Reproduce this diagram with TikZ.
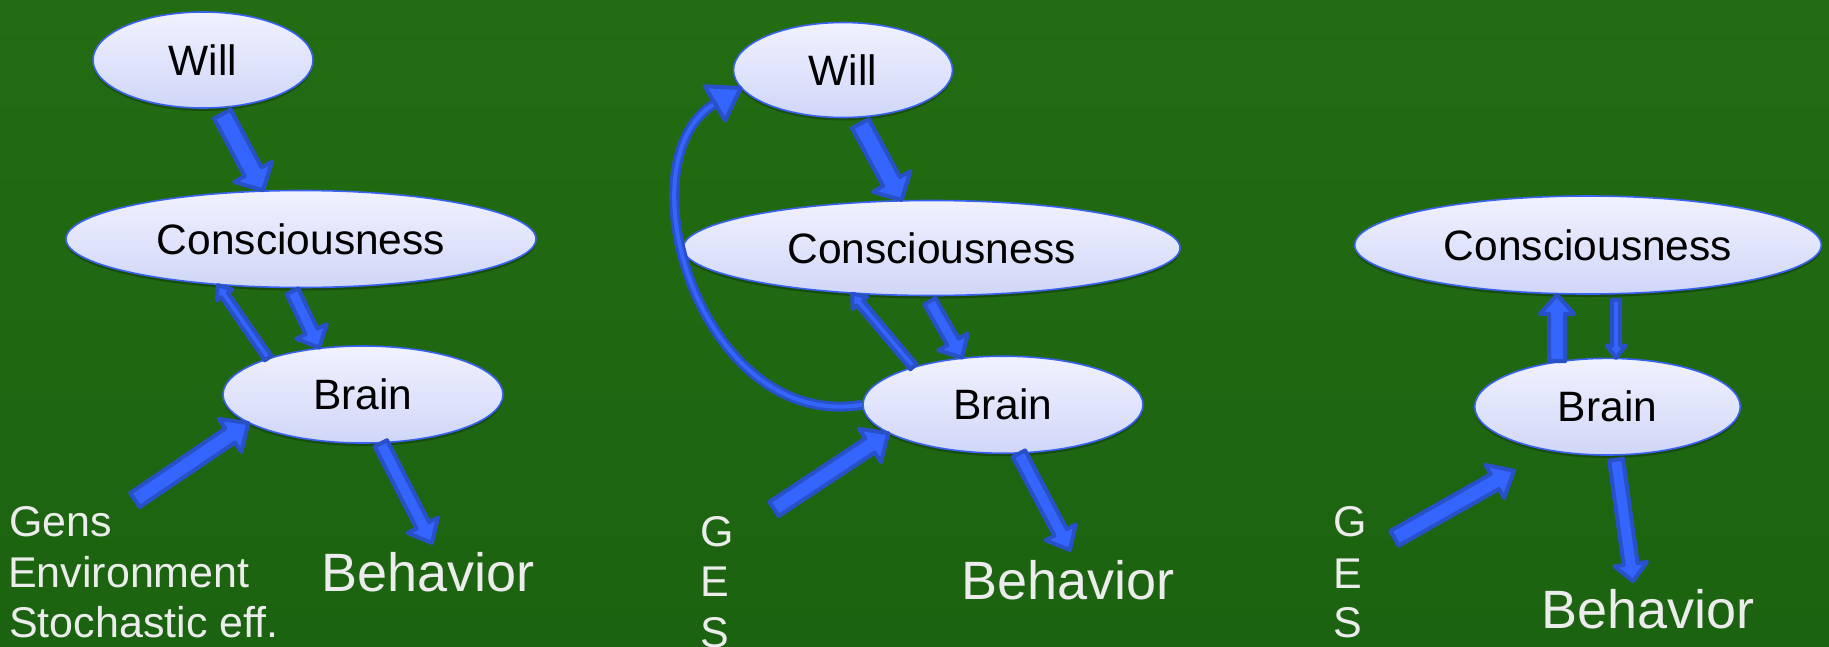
\documentclass[tikz,border=0pt]{standalone}
\usepackage{fontspec}
\setmainfont{Liberation Sans}
\usetikzlibrary{shapes.geometric,calc,shadows}
\definecolor{bgtop}{RGB}{36,108,18}
\definecolor{bgbot}{RGB}{27,99,16}
\definecolor{elltop}{RGB}{241,242,254}
\definecolor{ellbot}{RGB}{208,214,248}
\definecolor{ellborder}{RGB}{58,98,240}
\definecolor{arrfill}{RGB}{52,102,255}
\definecolor{arrborder}{RGB}{40,80,200}
\definecolor{lblcol}{RGB}{236,236,236}
\tikzset{
  bubble/.style={ellipse, draw=ellborder, line width=1.6pt, top color=elltop, bottom color=ellbot,
    inner sep=0pt, text=black, font=\fontsize{42.5}{50}\selectfont,
    drop shadow={shadow xshift=0pt, shadow yshift=-3pt, opacity=0.25, fill=black}},
  barrow/.style={draw=arrborder, fill=arrfill, line width=4pt, line join=round},
  cvborder/.style={draw=arrborder, line width=10pt},
  cvfill/.style={draw=arrfill, line width=4pt},
  lbl/.style={text=lblcol, font=\fontsize{43}{50}\selectfont, inner sep=0pt, anchor=base west},
  behlbl/.style={text=lblcol, font=\fontsize{54}{60}\selectfont, inner sep=0pt, anchor=base west},
}
% block arrow: [opts]{from}{to}{shaft half width}{head half width}{head length}
\newcommand\blockarr[6][]{%
  \coordinate (baA) at (#2);
  \coordinate (baB) at (#3);
  \coordinate (baH) at ($(baB)!#6pt!(baA)$);
  \draw[barrow,#1] ($(baA)!#4pt!90:(baB)$) -- ($(baH)!#4pt!90:(baB)$) -- ($(baH)!#5pt!90:(baB)$)
    -- (baB) -- ($(baH)!#5pt!-90:(baB)$) -- ($(baH)!#4pt!-90:(baB)$) -- ($(baA)!#4pt!-90:(baB)$) -- cycle;
}
\begin{document}
\begin{tikzpicture}[x=1pt,y=-1pt]
\useasboundingbox (0,0) rectangle (1829,646);
\shade[top color=bgtop, bottom color=bgbot] (0,0) rectangle (1829,646);

% ---------- panel 1 ----------
\node[bubble, minimum width=220pt, minimum height=96pt] (w1) at (203,60) {Will};
\node[bubble, minimum width=470pt, minimum height=97pt] (c1) at (301,239) {Consciousness};
\node[bubble, minimum width=280pt, minimum height=97pt] (b1) at (363,394.5) {Brain};
\node[lbl] (g1) at (9,536) {Gens};
\node[lbl] (e1) at (8,587) {Environment};
\node[lbl] (s1) at (9,637) {Stochastic eff.};
\node[behlbl] (beh1) at (321,591) {Behavior};
\coordinate (ges1) at (135,500);
\coordinate (beh1t) at (432,543);
\blockarr{$(w1.-68)+(0,6)$}{c1.128}{9.5}{21.5}{21}
\blockarr{b1.159}{c1.209}{4}{9.5}{12}
\blockarr{$(c1.-100)+(0,3)$}{b1.133}{6.5}{17}{18}
\blockarr{ges1}{b1.194}{8.5}{20}{22}
\blockarr{b1.-70}{beh1t}{7}{17}{20}

% ---------- panel 2 ----------
\node[bubble, minimum width=219pt, minimum height=95pt] (w2) at (843,70) {Will};
\node[bubble, minimum width=497pt, minimum height=95pt] (c2) at (931.5,248) {Consciousness};
\node[bubble, minimum width=280pt, minimum height=97pt] (b2) at (1003,404.7) {Brain};
\node[lbl] (g2) at (700.5,546) {G};
\node[lbl] (e2) at (700.5,596.5) {E};
\node[lbl] (s2) at (700.5,647) {S};
\node[behlbl] (beh2) at (961,599.5) {Behavior};
\coordinate (ges2) at (774,509);
\coordinate (beh2t) at (1070,550);
\blockarr{$(w2.-70)+(0,6)$}{c2.122}{9.5}{21.5}{21}
\blockarr{b2.157}{c2.210}{4}{9.5}{12}
\blockarr{$(c2.-92)+(0,5)$}{b2.131}{6.5}{17}{18}
\blockarr{ges2}{b2.194}{8.5}{20}{22}
\blockarr{b2.-72}{beh2t}{7}{17}{20}
% curved feedback arrow Brain -> Will
\coordinate (cvh) at ($(w2.190)!30pt!(620,160)$);
\draw[cvborder] (b2.west) .. controls (700,432) and (620,160) .. (cvh);
\draw[cvfill] (b2.west) .. controls (700,432) and (620,160) .. (cvh);
\draw[barrow] ($(cvh)!20pt!90:(w2.190)$) -- (w2.190) -- ($(cvh)!20pt!-90:(w2.190)$) -- cycle;

% ---------- panel 3 ----------
\node[bubble, minimum width=466.6pt, minimum height=98pt] (c3) at (1588,245) {Consciousness};
\node[bubble, minimum width=265.6pt, minimum height=96.6pt] (b3) at (1607.5,406.7) {Brain};
\node[lbl] (g3) at (1333.5,536.7) {G};
\node[lbl] (e3) at (1333.5,588) {E};
\node[lbl] (s3) at (1333.5,637) {S};
\node[behlbl] (beh3) at (1541,628.3) {Behavior};
\coordinate (ges3) at (1394.5,538.3);
\coordinate (ges3t) at (1514,470.7);
\coordinate (beh3t) at (1633,581);
\blockarr{b3.138}{b3.138 |- c3.south}{8}{17}{19}
\blockarr{$(b3.80 |- c3.south)+(0,5)$}{b3.80}{4}{9.5}{12}
\blockarr{ges3}{ges3t}{8.5}{19}{22}
\blockarr{$(b3.-80)+(0,4)$}{beh3t}{7}{16.5}{17}
\end{tikzpicture}
\end{document}
